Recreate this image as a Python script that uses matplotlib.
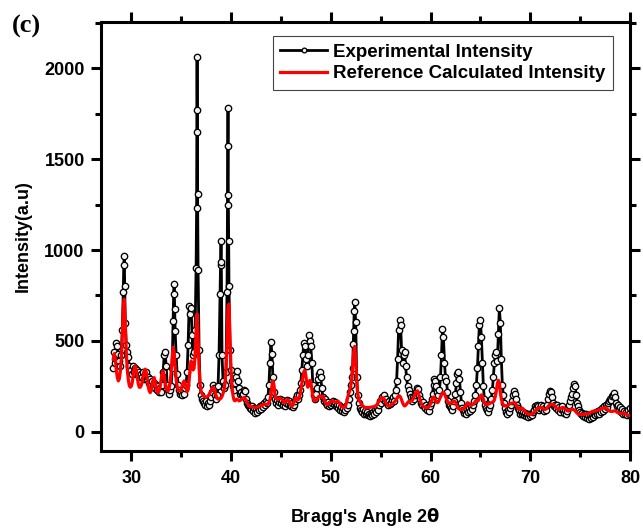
import numpy as np
import matplotlib
matplotlib.use("Agg")
import matplotlib.pyplot as plt
from matplotlib.ticker import MultipleLocator

# ---------------- data ----------------
angle_start = 28.2   # first 2-theta value of the scan
angle_step = 0.1     # scan step (deg)

exp_intensity = [
    350, 440, 380, 490, 470, 430, 390, 360,                      # 28.2-28.9
    420, 560, 770, 965, 600, 480, 440, 410, 360, 330,            # 29
    340, 320, 360, 330, 350, 320, 340, 310, 330, 300,            # 30
    320, 300, 330, 290, 320, 330, 290, 300, 270, 290,            # 31
    260, 280, 250, 270, 240, 260, 230, 250, 220, 240,            # 32
    220, 260, 330, 420, 440, 360, 260, 230, 210, 230,            # 33
    250, 350, 610, 815, 556, 420, 320, 260, 230, 210,            # 34
    220, 200, 230, 210, 240, 260, 330, 480, 690, 650,            # 35
    680, 530, 420, 440, 560, 900, 2065, 890, 450, 260,           # 36
    200, 180, 170, 160, 150, 170, 140, 160, 150, 170,            # 37
    190, 220, 260, 240, 200, 180, 200, 250, 420, 760,            # 38
    1050, 420, 280, 240, 260, 330, 770, 1780, 800, 450,          # 39
    340, 280, 250, 230, 270, 300, 335, 280, 240, 210,            # 40
    220, 200, 210, 230, 225, 180, 160, 150, 140, 130,            # 41
    125, 140, 115, 130, 105, 125, 110, 130, 120, 140,            # 42
    125, 150, 135, 160, 150, 170, 160, 190, 260, 380,            # 43
    495, 430, 300, 220, 180, 160, 175, 150, 165, 180,            # 44
    160, 175, 150, 165, 140, 160, 175, 155, 170, 150,            # 45
    140, 160, 135, 150, 170, 185, 200, 180, 200, 230,            # 46
    270, 340, 420, 490, 470, 400, 360, 420, 530, 500,            # 47
    470, 380, 260, 200, 180, 210, 240, 290, 320, 330,            # 48
    300, 240, 190, 170, 180, 160, 150, 165, 140, 155,            # 49
    145, 160, 170, 155, 165, 140, 150, 130, 145, 120,            # 50
    135, 115, 130, 110, 120, 140, 130, 150, 180, 220,            # 51
    260, 300, 353, 556, 712, 602, 300, 200, 160, 130,            # 52
    120, 110, 125, 100, 115, 95, 110, 90, 100, 85,               # 53
    100, 90, 110, 100, 120, 110, 130, 120, 150, 170,             # 54
    160, 190, 180, 200, 170, 180, 160, 150, 170, 155,            # 55
    160, 175, 190, 170, 200, 230, 280, 400, 560, 615,            # 56
    590, 450, 380, 420, 440, 360, 300, 250, 230, 210,            # 57
    190, 170, 190, 180, 200, 220, 240, 235, 200, 180,            # 58
    160, 150, 165, 140, 130, 145, 120, 135, 115, 140,            # 59
    160, 180, 210, 260, 290, 280, 250, 220, 200, 230,            # 60
    300, 420, 565, 520, 380, 300, 280, 220, 170, 150,            # 61
    140, 130, 120, 140, 170, 210, 270, 320, 330, 290,            # 62
    220, 160, 130, 120, 105, 115, 100, 120, 110, 130,            # 63
    115, 140, 125, 150, 170, 200, 260, 350, 470, 590,            # 64
    615, 520, 380, 250, 180, 150, 130, 120, 110, 130,            # 65
    150, 180, 230, 300, 380, 420, 440, 390, 540, 680,            # 66
    600, 400, 260, 200, 160, 130, 110, 100, 120, 110,            # 67
    130, 150, 170, 200, 225, 210, 180, 150, 130, 120,            # 68
    100, 115, 95, 110, 90, 105, 85, 100, 80, 95,                 # 69
    85, 100, 90, 110, 120, 140, 130, 150, 140, 120,              # 70
    130, 145, 125, 140, 115, 130, 120, 150, 180, 210,            # 71
    225, 220, 190, 160, 140, 150, 130, 145, 120, 135,            # 72
    110, 125, 140, 120, 105, 120, 100, 115, 130, 150,            # 73
    170, 190, 210, 240, 265, 250, 200, 160, 140, 120,            # 74
    110, 95, 105, 85, 100, 80, 95, 75, 90, 70,                   # 75
    85, 75, 90, 80, 100, 90, 110, 95, 115, 100,                  # 76
    120, 110, 130, 115, 140, 125, 150, 135, 160, 170,            # 77
    180, 175, 195, 205, 215, 190, 160, 140, 150, 120,            # 78
    135, 110, 125, 100, 115, 95, 110, 90, 120, 100,              # 79
    130,                                                         # 80.0
]

# extra experimental points read on the flanks of the sharp peaks
extra_angle = [29.25, 29.35, 34.25, 34.35, 36.55, 36.58, 36.62, 36.65,
               38.95, 39.03, 39.65, 39.68, 39.73, 39.76, 52.25, 52.35]
extra_intensity = [920, 800, 760, 675, 1230, 1650, 1770, 1306,
                   916, 937, 1246, 1571, 1305, 1050, 482, 666]

calc_intensity = [
    400, 430, 400, 340, 300, 280, 290, 330,                      # 28.2-28.9
    400, 520, 680, 730, 600, 440, 340, 290, 255, 245,            # 29
    250, 270, 310, 350, 362, 340, 300, 265, 245, 245,            # 30
    255, 275, 305, 335, 345, 330, 290, 250, 225, 215,            # 31
    225, 255, 290, 298, 275, 240, 220, 215, 225, 250,            # 32
    290, 325, 335, 310, 270, 240, 225, 225, 240, 270,            # 33
    330, 410, 465, 440, 360, 290, 250, 230, 225, 225,            # 34
    230, 250, 270, 280, 270, 240, 220, 230, 280, 350,            # 35
    390, 370, 340, 350, 420, 560, 648, 520, 350, 260,            # 36
    225, 210, 200, 195, 190, 190, 192, 197, 205, 215,            # 37
    225, 238, 245, 240, 220, 200, 185, 180, 180, 180,            # 38
    185, 195, 210, 230, 270, 350, 500, 690, 703, 520,            # 39
    340, 250, 200, 175, 170, 175, 180, 175, 170, 172,            # 40
    175, 180, 185, 188, 185, 175, 160, 150, 143, 140,            # 41
    138, 137, 136, 135, 135, 135, 136, 137, 138, 140,            # 42
    142, 145, 148, 151, 152, 150, 150, 152, 160, 175,            # 43
    200, 250, 280, 260, 210, 185, 178, 179, 182, 185,            # 44
    184, 180, 170, 160, 160, 168, 175, 178, 170, 158,            # 45
    145, 142, 145, 160, 180, 188, 185, 175, 180, 200,            # 46
    230, 265, 300, 330, 339, 310, 265, 245, 262, 283,            # 47
    275, 235, 195, 175, 170, 172, 178, 187, 195, 197,            # 48
    195, 190, 197, 185, 168, 155, 150, 150, 155, 160,            # 49
    165, 168, 170, 168, 165, 162, 165, 168, 165, 155,            # 50
    145, 138, 135, 133, 135, 145, 165, 190, 210, 225,            # 51
    250, 290, 360, 440, 470, 400, 280, 210, 180, 168,            # 52
    160, 150, 142, 138, 135, 133, 133, 133, 133, 134,            # 53
    135, 136, 137, 138, 140, 143, 147, 155, 165, 175,            # 54
    182, 187, 188, 185, 175, 162, 152, 145, 142, 142,            # 55
    145, 150, 155, 160, 165, 172, 180, 190, 196, 197,            # 56
    190, 175, 160, 148, 142, 145, 152, 160, 166, 169,            # 57
    168, 169, 175, 185, 200, 215, 223, 225, 210, 185,            # 58
    165, 151, 143, 138, 135, 133, 133, 133, 135, 142,            # 59
    155, 170, 185, 191, 185, 172, 162, 160, 165, 178,            # 60
    192, 205, 213, 215, 210, 195, 180, 168, 160, 155,            # 61
    155, 158, 163, 168, 169, 163, 150, 137, 128, 124,            # 62
    122, 122, 123, 125, 130, 140, 152, 160, 158, 150,            # 63
    145, 145, 150, 153, 160, 168, 172, 170, 172, 185,            # 64
    198, 203, 195, 178, 162, 153, 150, 150, 152, 155,            # 65
    158, 160, 162, 165, 175, 195, 225, 265, 283, 270,            # 66
    220, 180, 160, 148, 143, 142, 143, 145, 148, 152,            # 67
    155, 157, 158, 159, 160, 157, 148, 135, 125, 123,            # 68
    125, 128, 130, 125, 118, 110, 104, 100, 97, 96,              # 69
    96, 96, 98, 102, 108, 115, 122, 128, 131, 133,               # 70
    133, 133, 130, 126, 123, 123, 126, 132, 140, 146,            # 71
    150, 151, 151, 150, 145, 138, 130, 125, 123, 125,            # 72
    128, 131, 133, 133, 130, 125, 120, 116, 116, 118,            # 73
    121, 123, 123, 123, 120, 115, 108, 102, 98, 96,              # 74
    95, 95, 95, 96, 97, 98, 98, 99, 100, 102,                    # 75
    105, 108, 111, 113, 114, 114, 115, 117, 119, 121,            # 76
    123, 126, 128, 130, 132, 133, 130, 125, 120, 116,            # 77
    113, 112, 112, 113, 115, 115, 112, 108, 104, 102,            # 78
    101, 101, 102, 103, 102, 100, 97, 94, 92, 90,                # 79
    88,                                                          # 80.0
]

x_ticks = [30, 40, 50, 60, 70, 80]
y_ticks = [0, 500, 1000, 1500, 2000]
exp_label = "Experimental Intensity"
calc_label = "Reference Calculated Intensity"

# ---------------- build series ----------------
grid = np.round(angle_start + angle_step * np.arange(len(exp_intensity)), 2)
calc_angle = np.round(angle_start + angle_step * np.arange(len(calc_intensity)), 2)
ea = np.concatenate([grid, np.array(extra_angle)])
ei = np.concatenate([np.array(exp_intensity, float), np.array(extra_intensity, float)])
order = np.argsort(ea, kind="stable")
ea, ei = ea[order], ei[order]

# ---------------- figure ----------------
plt.rcParams["font.family"] = ["Liberation Sans", "DejaVu Sans"]
plt.rcParams["font.weight"] = "bold"
plt.rcParams["axes.labelweight"] = "bold"

fig = plt.figure(figsize=(6.43, 5.28), dpi=100)
ax = fig.add_axes([0.1565, 0.1458, 0.8233, 0.8125])

ax.plot(ea, ei, color="black", lw=2.0, marker="o", ms=4.6, mfc="#f2f2f2",
        mec="black", mew=0.95, label=exp_label, zorder=2)
ax.plot(calc_angle, calc_intensity, color="#ff0000", lw=2.3, label=calc_label, zorder=3)

ax.set_xlim(26.93, 80)
ax.set_ylim(-106, 2255)
ax.set_xticks(x_ticks)
ax.set_yticks(y_ticks)
ax.xaxis.set_minor_locator(MultipleLocator(5))
ax.yaxis.set_minor_locator(MultipleLocator(250))

for s in ax.spines.values():
    s.set_linewidth(2.2)
ax.tick_params(which="both", direction="out", width=2.2, top=True, right=True,
               labeltop=False, labelright=False, labelsize=13)
ax.tick_params(which="major", length=7.5, pad=4)
ax.tick_params(which="minor", length=4)
ax.tick_params(axis="x", which="major", pad=6)

ax.set_xlabel(r"Bragg's Angle 2$\mathrm{\theta}$", fontsize=13, labelpad=14)
ax.set_ylabel("Intensity(a.u)", fontsize=13, labelpad=9)

leg = ax.legend(loc="upper right", bbox_to_anchor=(612.7 / 643, 1 - 36 / 528),
                bbox_transform=fig.transFigure, fontsize=13.5, frameon=True,
                fancybox=False, edgecolor="#444444", framealpha=1,
                handlelength=2.5, handletextpad=0.3, borderpad=0.4,
                labelspacing=0.25, numpoints=1, borderaxespad=0)
leg.get_frame().set_linewidth(0.8)
for line in leg.get_lines():
    line.set_markersize(3.4)

fig.text(12 / 643, 1 - 33 / 528, "(c)", fontsize=19, fontweight="bold",
         family=["Liberation Serif", "DejaVu Serif"], va="baseline", ha="left")

fig.savefig("out.png", dpi=100)
